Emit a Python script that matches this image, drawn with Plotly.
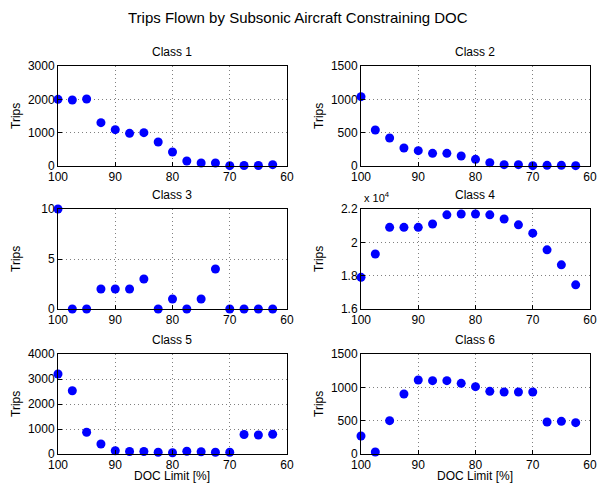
import plotly.graph_objects as go

doc_limit = [100, 97.5, 95, 92.5, 90, 87.5, 85, 82.5, 80, 77.5, 75, 72.5, 70, 67.5, 65, 62.5]

class1 = [2000, 1980, 2010, 1300, 1090, 980, 1000, 720, 420, 150, 90, 90, 10, 15, 15, 40]
class2 = [1040, 540, 420, 270, 230, 190, 190, 150, 100, 50, 20, 20, 5, 10, 10, 5]
class3 = [10, 0, 0, 2, 2, 2, 3, 0, 1, 0, 1, 4, 0, 0, 0, 0]
class4 = [17900, 19300, 20900, 20900, 20900, 21100, 21650, 21700, 21700, 21650, 21400, 21050, 20550, 19550, 18650, 17450]
class5 = [3200, 2530, 870, 400, 130, 100, 100, 70, 50, 110, 90, 70, 70, 780, 760, 790]
class6 = [270, 30, 500, 900, 1110, 1100, 1100, 1060, 1010, 940, 930, 930, 930, 480, 490, 470]

series = [class1, class2, class3, class4, class5, class6]
titles = ["Class 1", "Class 2", "Class 3", "Class 4", "Class 5", "Class 6"]

x_ticks = [100, 90, 80, 70, 60]
y_ticks = [
    [0, 1000, 2000, 3000],
    [0, 500, 1000, 1500],
    [0, 5, 10],
    [16000, 18000, 20000, 22000],
    [0, 1000, 2000, 3000, 4000],
    [0, 500, 1000, 1500],
]
y_ticktext = [
    ["0", "1000", "2000", "3000"],
    ["0", "500", "1000", "1500"],
    ["0", "5", "10"],
    ["1.6", "1.8", "2", "2.2"],
    ["0", "1000", "2000", "3000", "4000"],
    ["0", "500", "1000", "1500"],
]
y_ranges = [[0, 3000], [0, 1500], [0, 10], [16000, 22000], [0, 4000], [0, 1500]]

# body margin is removed via post_script, so figure pixels == screen pixels
W, H = 597, 485
col_px = [(58, 287), (361, 590)]
row_px = [(66, 166), (209, 309), (354, 454)]


def px(xs):
    return xs / W


def py(ys):
    return 1 - ys / H


FONT = "Liberation Sans, Arial, Helvetica, sans-serif"

fig = go.Figure()
layout = dict(
    width=W, height=H,
    margin=dict(l=0, r=0, t=0, b=0, autoexpand=False),
    paper_bgcolor="white", plot_bgcolor="white",
    showlegend=False, hovermode=False,
    font=dict(family=FONT, size=12, color="black"),
)
annotations = []

for i in range(6):
    r, c = divmod(i, 2)
    x0, x1 = col_px[c]
    yt, yb = row_px[r]
    xa = "xaxis" if i == 0 else f"xaxis{i+1}"
    ya = "yaxis" if i == 0 else f"yaxis{i+1}"
    xref = "x" if i == 0 else f"x{i+1}"
    yref = "y" if i == 0 else f"y{i+1}"
    fig.add_trace(go.Scatter(
        x=doc_limit, y=series[i], mode="markers",
        marker=dict(color="#0000ff", size=9, line=dict(width=0)),
        xaxis=xref, yaxis=yref, cliponaxis=False,
    ))
    layout[xa] = dict(
        domain=[px(x0), px(x1)], anchor=yref,
        range=[100, 60], tickvals=x_ticks,
        showline=True, mirror=True, linecolor="black", linewidth=1,
        ticks="inside", ticklen=4, tickcolor="black",
        showgrid=True, gridcolor="#808080", griddash="1px,3px", gridwidth=1,
        zeroline=False, tickfont=dict(size=12), automargin=False,
        ticklabeloverflow="allow",
    )
    layout[ya] = dict(
        domain=[py(yb), py(yt)], anchor=xref,
        range=y_ranges[i], tickvals=y_ticks[i], ticktext=y_ticktext[i],
        showline=True, mirror=True, linecolor="black", linewidth=1,
        ticks="inside", ticklen=4, tickcolor="black",
        showgrid=True, gridcolor="#808080", griddash="1px,3px", gridwidth=1,
        zeroline=False, tickfont=dict(size=12), automargin=False,
        ticklabeloverflow="allow",
    )
    annotations.append(dict(
        text=titles[i], xref="paper", yref="paper",
        x=px((x0 + x1) / 2), y=py(yt - 5),
        xanchor="center", yanchor="bottom", showarrow=False,
        font=dict(size=12),
    ))
    annotations.append(dict(
        text="Trips", xref="paper", yref="paper",
        x=px(x0 - 42), y=py((yt + yb) / 2),
        xanchor="center", yanchor="middle", textangle=-90, showarrow=False,
        font=dict(size=12),
    ))
    if r == 2:
        annotations.append(dict(
            text="DOC Limit [%]", xref="paper", yref="paper",
            x=px((x0 + x1) / 2), y=py(476),
            xanchor="center", yanchor="middle", showarrow=False,
            font=dict(size=12),
        ))

annotations.append(dict(
    text="x 10<sup>4</sup>", xref="paper", yref="paper",
    x=px(362), y=py(206), xanchor="left", yanchor="bottom",
    showarrow=False, font=dict(size=11),
))
annotations.append(dict(
    text="Trips Flown by Subsonic Aircraft Constraining DOC",
    xref="paper", yref="paper", x=px(298), y=py(18),
    xanchor="center", yanchor="middle", showarrow=False,
    font=dict(size=15),
))
layout["annotations"] = annotations
fig.update_layout(**layout)
fig.write_html(
    "out.html",
    config={"displayModeBar": False, "staticPlot": True},
    post_script="document.body.style.margin='0';document.body.style.overflow='hidden';",
)
